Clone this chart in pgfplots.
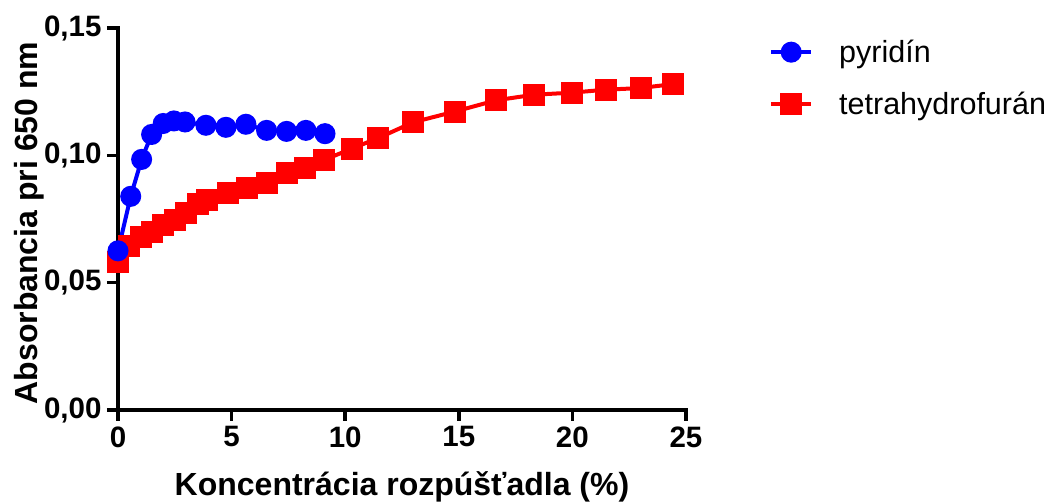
\documentclass[border=0pt]{standalone}
\usepackage{pgfplots}
\pgfplotsset{compat=1.18}
\usepackage{fontspec}
\setmainfont{Liberation Sans}
\begin{document}
\begin{tikzpicture}[x=1pt,y=1pt]
\begin{axis}[
  at={(0,0)}, anchor=origin,
  scale only axis, width=568pt, height=382pt,
  xmin=0, xmax=25, ymin=0, ymax=0.15,
  axis x line*=bottom, axis y line*=left,
  axis line style={line width=3.5pt, line cap=rect},
  xtick={0,5,10,15,20,25}, ytick={0,0.05,0.1,0.15},
  tick style={line width=3.5pt, black},
  tick align=outside, major tick length=11pt,
  /pgf/number format/assume math mode=true,
  yticklabel style={/pgf/number format/fixed, /pgf/number format/fixed zerofill, /pgf/number format/precision=2, /pgf/number format/use comma, xshift=-2pt},
  ticklabel style={font=\fontsize{29.5}{32}\selectfont\bfseries},
  xticklabel style={yshift=-2pt},
  xlabel={Koncentrácia rozpúšťadla (\%)},
  ylabel={Absorbancia pri 650 nm},
  xlabel style={yshift=-17pt, font=\fontsize{32}{34}\selectfont\bfseries},
  ylabel style={yshift=-7pt, xshift=-4pt, font=\fontsize{32}{34}\selectfont\bfseries},
  clip=false,
  reverse legend,
  legend style={at={(rel axis cs:1,1)}, anchor=north west, xshift=80pt, yshift=-8pt, draw=none, fill=none,
    font=\fontsize{30.5}{33}\selectfont, row sep=24pt},
  legend cell align=left,
  legend image code/.code={\draw[#1] (0pt,0pt) -- (40pt,0pt); \draw[#1] plot coordinates {(20pt,0pt)};},
]
\addplot[red, line width=4pt, mark=square*, mark size=9pt, mark options={solid}] coordinates {
(0,0.0580) (0.5,0.0645) (1.0,0.0680) (1.5,0.0700) (2.0,0.0728) (2.5,0.0748) (3.0,0.0775)
(3.5,0.0810) (3.9,0.0825) (4.85,0.0852) (5.66,0.0873) (6.54,0.0893) (7.42,0.0931) (8.23,0.0950)
(9.08,0.0982) (10.28,0.1026) (11.46,0.1068) (13.0,0.1130) (14.83,0.1172) (16.64,0.1216)
(18.31,0.1238) (19.97,0.1246) (21.5,0.1258) (23.0,0.1264) (24.44,0.1280)
};
\addlegendentry{\hspace*{24pt}tetrahydrofurán}
\addplot[blue, line width=4pt, mark=*, mark size=8.5pt, mark options={solid}] coordinates {
(0,0.0625) (0.56,0.0839) (1.04,0.0984) (1.48,0.1082) (1.99,0.1125) (2.46,0.1135) (2.95,0.1131)
(3.87,0.1118) (4.75,0.1110) (5.63,0.1122) (6.54,0.1098) (7.42,0.1094) (8.27,0.1098) (9.11,0.1085)
};
\addlegendentry{\hspace*{24pt}pyridín}
\end{axis}
\pgfresetboundingbox
\path (-118pt,-92pt) rectangle (931pt,410pt);
\end{tikzpicture}
\end{document}
